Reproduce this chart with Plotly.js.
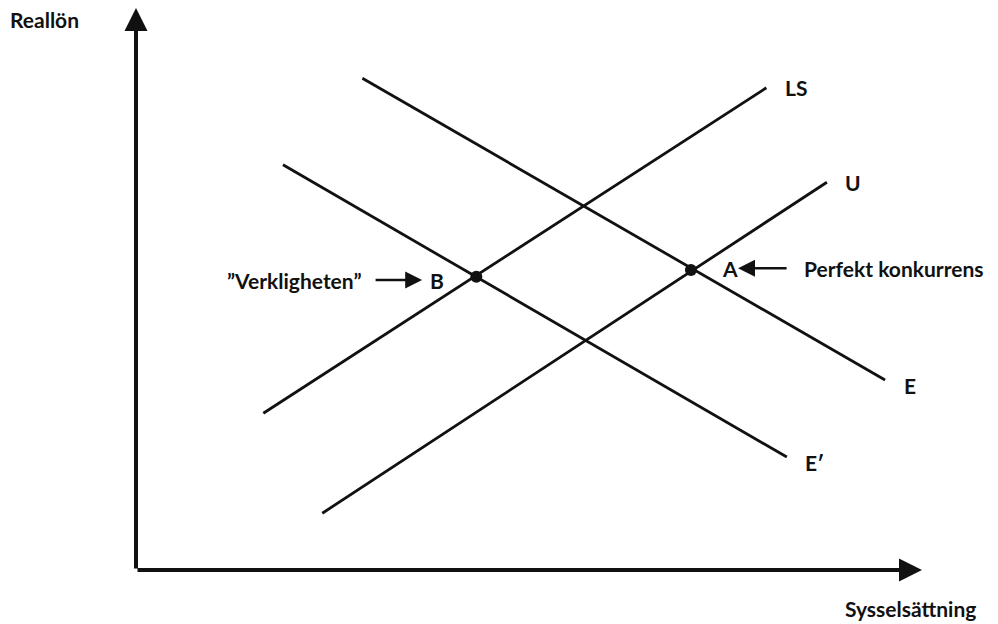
<!DOCTYPE html>
<html lang="sv">
<head>
  <meta charset="UTF-8">
  <title>Reallön och sysselsättning</title>
  <script src="https://cdn.plot.ly/plotly-3.0.1.min.js"></script>
  <style>
    body { margin: 0; background: #fff; }
    #chart { width: 998px; height: 624px; }
  </style>
</head>
<body>
  <div id="chart"></div>
  <script>
    // curve end points (sysselsättning, reallön), arbitrary units 0-100
    const lineNames = ["LS", "U", "E", "E\u2032"];
    const lineX = [[16.2, 80.2], [23.7, 87.9], [28.8, 95.3], [18.7, 82.8]];
    const lineY = [[27.9, 85.8], [10.1, 69.0], [87.5, 33.8], [72.1, 20.1]];

    // equilibrium points
    const pointNames = ["B", "A"];
    const pointX = [43.3, 70.6];
    const pointY = [52.2, 53.4];

    const font = "Lato, 'Open Sans', sans-serif";
    const ink = "#111";
    const txt = { family: font, size: 21, color: ink, weight: "bold" };

    let traces = lineNames.map((n, i) => ({
      x: lineX[i], y: lineY[i], mode: "lines", name: n,
      line: { color: ink, width: 2.8 }, hoverinfo: "name"
    }));
    traces.push({
      x: pointX, y: pointY, mode: "markers", text: pointNames,
      marker: { color: ink, size: 12 }, hoverinfo: "text"
    });

    // curve labels placed just beyond the upper/right end of each line
    let labelAnn = lineNames.map((n, i) => {
      const dx = [2.1, 2.1, 2.2, 2.1][i];
      const dy = [0, 0, -0.9, -0.9][i];
      return {
        x: lineX[i][1] + dx, y: lineY[i][1] + dy, text: n, showarrow: false,
        xanchor: "left", yanchor: "middle", font: txt
      };
    });

    const annotations = [
      // axes with arrow heads
      { x: 100, y: 0, ax: 0, ay: 0, axref: "x", ayref: "y", text: "", showarrow: true,
        arrowhead: 2, arrowsize: 1.15, arrowwidth: 4, arrowcolor: ink },
      { x: 0, y: 100, ax: 0, ay: 0, axref: "x", ayref: "y", text: "", showarrow: true,
        arrowhead: 2, arrowsize: 1.15, arrowwidth: 4, arrowcolor: ink },
      { x: -0.163, y: 0.979, xref: "paper", yref: "paper", text: "Reallön", showarrow: false,
        xanchor: "left", yanchor: "middle", font: txt },
      { x: 1.071, y: -0.068, xref: "paper", yref: "paper", text: "Sysselsättning", showarrow: false,
        xanchor: "right", yanchor: "middle", font: txt },
      // point labels
      { x: 37.2, y: 51.6, text: pointNames[0], showarrow: false,
        xanchor: "left", yanchor: "middle", font: txt },
      { x: 74.3, y: 53.7, text: pointNames[1], showarrow: false,
        xanchor: "left", yanchor: "middle", font: txt },
      // explanatory labels with small arrows
      { x: 29.0, y: 51.6, text: "\u201dVerkligheten\u201d", showarrow: false,
        xanchor: "right", yanchor: "middle", font: txt },
      { x: 36.4, y: 51.6, ax: -48, ay: 0, text: "", showarrow: true,
        arrowhead: 2, arrowsize: 1.3, arrowwidth: 2.6, arrowcolor: ink },
      { x: 76.6, y: 53.7, ax: 50, ay: 0, text: "", showarrow: true,
        arrowhead: 2, arrowsize: 1.3, arrowwidth: 2.6, arrowcolor: ink },
      { x: 84.7, y: 53.7, text: "Perfekt konkurrens", showarrow: false,
        xanchor: "left", yanchor: "middle", font: txt }
    ].concat(labelAnn);

    const layout = {
      width: 998, height: 624,
      margin: { l: 136, r: 76, t: 8, b: 54 },
      paper_bgcolor: "#fff", plot_bgcolor: "#fff",
      showlegend: false,
      xaxis: { range: [0, 100], visible: false, fixedrange: true },
      yaxis: { range: [0, 100], visible: false, fixedrange: true },
      annotations: annotations
    };

    Plotly.newPlot("chart", traces, layout, { displayModeBar: false, staticPlot: true });
  </script>
</body>
</html>
